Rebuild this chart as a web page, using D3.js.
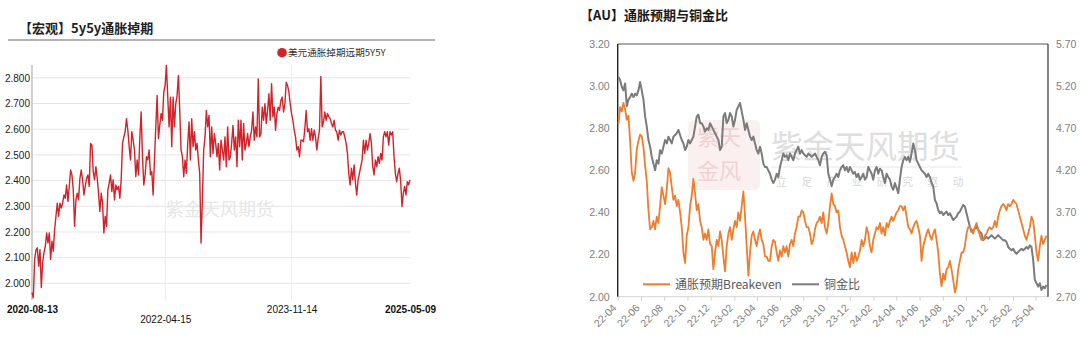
<!DOCTYPE html>
<html>
<head>
<meta charset="utf-8">
<script src="https://cdn.jsdelivr.net/npm/d3@7"></script>
<style>
  html, body { margin: 0; padding: 0; background: #fff; }
  svg { display: block; font-family: "Liberation Sans", Arial, "Noto Sans CJK SC", sans-serif; }
</style>
</head>
<body>
<svg id="chart" width="1080" height="342"></svg>
<script>
// ---------- Left panel: USD 5y5y inflation swap ----------
const swapTitle = "【宏观】5y5y通胀掉期";
const swapLegend = "美元通胀掉期远期5Y5Y";
const swapStart = "2020-08-13";
const swapEnd = "2025-05-09";
const swapDateTicks = ["2020-08-13", "2022-04-15", "2023-11-14", "2025-05-09"];
const swapValueTicks = [2.0, 2.1, 2.2, 2.3, 2.4, 2.5, 2.6, 2.7, 2.8];
const swap5y5y = [
  1.964, 1.944, 2.093, 2.131, 2.138, 2.067, 2.131, 1.983, 2.080, 2.119,
  2.144, 2.196, 2.157, 2.196, 2.093, 2.164, 2.125, 2.209, 2.261, 2.312,
  2.261, 2.312, 2.293, 2.312, 2.344, 2.331, 2.383, 2.319, 2.377, 2.441,
  2.422, 2.364, 2.222, 2.325, 2.351, 2.325, 2.409, 2.441, 2.403, 2.344,
  2.377, 2.409, 2.422, 2.377, 2.545, 2.538, 2.435, 2.403, 2.454, 2.409,
  2.351, 2.280, 2.351, 2.312, 2.196, 2.261, 2.222, 2.364, 2.390, 2.422,
  2.357, 2.403, 2.325, 2.383, 2.364, 2.377, 2.331, 2.403, 2.545, 2.570,
  2.590, 2.641, 2.596, 2.532, 2.480, 2.590, 2.557, 2.519, 2.415, 2.480,
  2.422, 2.564, 2.667, 2.493, 2.383, 2.422, 2.493, 2.480, 2.519, 2.422,
  2.435, 2.344, 2.480, 2.609, 2.731, 2.564, 2.615, 2.661, 2.635, 2.745,
  2.770, 2.848, 2.725, 2.609, 2.725, 2.532, 2.725, 2.609, 2.699, 2.731,
  2.809, 2.673, 2.519, 2.493, 2.415, 2.480, 2.428, 2.545, 2.628, 2.480,
  2.641, 2.532, 2.590, 2.519, 2.545, 2.480, 2.428, 2.157, 2.325, 2.519,
  2.570, 2.673, 2.609, 2.654, 2.493, 2.609, 2.506, 2.583, 2.545, 2.493,
  2.545, 2.441, 2.557, 2.519, 2.480, 2.570, 2.454, 2.609, 2.480, 2.493,
  2.545, 2.615, 2.519, 2.570, 2.454, 2.635, 2.532, 2.635, 2.480, 2.622,
  2.519, 2.545, 2.583, 2.532, 2.570, 2.596, 2.667, 2.557, 2.609, 2.570,
  2.796, 2.570, 2.583, 2.686, 2.635, 2.699, 2.622, 2.673, 2.738, 2.635,
  2.777, 2.648, 2.686, 2.596, 2.661, 2.686, 2.673, 2.712, 2.725, 2.667,
  2.699, 2.783, 2.770, 2.745, 2.699, 2.661, 2.635, 2.596, 2.570, 2.519,
  2.532, 2.493, 2.557, 2.557, 2.551, 2.602, 2.673, 2.590, 2.602, 2.557,
  2.602, 2.557, 2.596, 2.570, 2.519, 2.564, 2.596, 2.805, 2.609, 2.628,
  2.667, 2.635, 2.661, 2.648, 2.641, 2.622, 2.609, 2.635, 2.596, 2.590,
  2.557, 2.596, 2.577, 2.590, 2.590, 2.570, 2.545, 2.506, 2.428, 2.383,
  2.448, 2.403, 2.461, 2.390, 2.344, 2.403, 2.428, 2.454, 2.480, 2.557,
  2.506, 2.557, 2.519, 2.545, 2.583, 2.545, 2.454, 2.422, 2.480, 2.454,
  2.493, 2.467, 2.506, 2.480, 2.570, 2.590, 2.570, 2.590, 2.538, 2.590,
  2.577, 2.590, 2.493, 2.428, 2.396, 2.428, 2.448, 2.396, 2.299, 2.351,
  2.377, 2.344, 2.396, 2.383, 2.403
];

// ---------- Right panel: breakeven inflation vs copper/gold ratio ----------
const auTitle = "【AU】通胀预期与铜金比";
const auSeriesNames = ["通胀预期Breakeven", "铜金比"];
const auStart = "2022-04-03";
const auEnd = "2025-04-30";
const auDomain = ["2022-04-01", "2025-05-04"];
const auMonthTicks = ["2022-04", "2022-06", "2022-08", "2022-10", "2022-12", "2023-02", "2023-04",
  "2023-06", "2023-08", "2023-10", "2023-12", "2024-02", "2024-04", "2024-06", "2024-08",
  "2024-10", "2024-12", "2025-02", "2025-04"];
const breakevenTicks = [2.0, 2.2, 2.4, 2.6, 2.8, 3.0, 3.2];
const ratioTicks = [2.7, 3.2, 3.7, 4.2, 4.7, 5.2, 5.7];
const breakeven = [
  2.82, 2.90, 2.88, 2.92, 2.89, 2.84, 2.86, 2.74, 2.59, 2.55,
  2.59, 2.70, 2.74, 2.77, 2.76, 2.71, 2.62, 2.55, 2.41, 2.32,
  2.33, 2.36, 2.32, 2.38, 2.35, 2.43, 2.52, 2.48, 2.44, 2.51,
  2.61, 2.59, 2.52, 2.46, 2.48, 2.43, 2.46, 2.40, 2.33, 2.21,
  2.16, 2.29, 2.33, 2.43, 2.48, 2.56, 2.49, 2.41, 2.44, 2.36,
  2.33, 2.27, 2.30, 2.27, 2.32, 2.25, 2.24, 2.13, 2.21, 2.27,
  2.24, 2.31, 2.27, 2.19, 2.12, 2.24, 2.30, 2.33, 2.27, 2.32,
  2.36, 2.33, 2.40, 2.36, 2.43, 2.50, 2.38, 2.24, 2.10, 2.21,
  2.29, 2.31, 2.27, 2.24, 2.29, 2.32, 2.27, 2.25, 2.19,
  2.19, 2.17, 2.17, 2.24, 2.27, 2.26, 2.21, 2.17, 2.22, 2.19,
  2.24, 2.21, 2.24, 2.19, 2.25, 2.27, 2.24, 2.30, 2.33, 2.38,
  2.38, 2.41, 2.40, 2.36, 2.33, 2.33, 2.30, 2.25, 2.27, 2.32,
  2.35, 2.36, 2.38, 2.35, 2.40, 2.33, 2.30, 2.35, 2.43, 2.49,
  2.44, 2.43, 2.40, 2.41, 2.33, 2.29, 2.27, 2.24, 2.21, 2.17,
  2.14, 2.21, 2.16, 2.21, 2.17, 2.19, 2.22, 2.27, 2.24, 2.27,
  2.33, 2.30, 2.24, 2.21, 2.27, 2.30, 2.33, 2.32, 2.35, 2.30,
  2.33, 2.29, 2.35, 2.33, 2.36, 2.38, 2.36, 2.38, 2.40, 2.41,
  2.43, 2.43, 2.41, 2.43, 2.38, 2.33, 2.32,
  2.30, 2.33, 2.35, 2.36, 2.33, 2.29, 2.17, 2.24, 2.27, 2.30,
  2.32, 2.29, 2.27, 2.30, 2.32, 2.27, 2.21, 2.11, 2.05, 2.11,
  2.08, 2.13, 2.14, 2.17, 2.13, 2.08, 2.02, 2.05, 2.13, 2.17,
  2.21, 2.21, 2.24, 2.30, 2.33, 2.33, 2.32, 2.30, 2.33, 2.35,
  2.32, 2.29, 2.27, 2.27, 2.29, 2.30, 2.32, 2.33, 2.32, 2.33,
  2.36, 2.33, 2.38, 2.41, 2.43, 2.44, 2.43, 2.41, 2.44, 2.43,
  2.44, 2.46, 2.45, 2.44, 2.41, 2.38, 2.35, 2.32, 2.29, 2.27,
  2.30, 2.33, 2.38, 2.36, 2.29, 2.21, 2.17, 2.24, 2.29, 2.25,
  2.27, 2.29
];
const copperGold = [
  5.31, 5.27, 5.19, 5.15, 5.23, 4.96, 5.04, 5.07, 5.11, 5.07,
  5.11, 5.09, 5.15, 5.25, 5.15, 5.04, 4.84, 4.72, 4.56, 4.48,
  4.36, 4.28, 4.20, 4.32, 4.28, 4.44, 4.40, 4.48, 4.56, 4.52,
  4.60, 4.56, 4.52, 4.60, 4.62, 4.64, 4.68, 4.62, 4.56, 4.52,
  4.44, 4.48, 4.56, 4.52, 4.56, 4.60, 4.72, 4.84, 4.86, 4.76,
  4.76, 4.72, 4.66, 4.70, 4.68, 4.76, 4.72, 4.68, 4.64, 4.60,
  4.56, 4.44, 4.48, 4.84, 4.88, 4.76, 4.80, 4.88, 4.84, 4.72,
  4.80, 4.92, 4.96, 5.00, 4.90, 4.80, 4.68, 4.76, 4.68, 4.60,
  4.56, 4.60, 4.52, 4.44, 4.40, 4.48, 4.40, 4.28, 4.24,
  4.24, 4.20, 4.16, 4.09, 4.05, 4.09, 4.16, 4.12, 4.24, 4.32,
  4.40, 4.36, 4.38, 4.32, 4.40, 4.36, 4.32, 4.40, 4.44, 4.48,
  4.40, 4.44, 4.40, 4.38, 4.36, 4.40, 4.38, 4.36, 4.38, 4.40,
  4.36, 4.32, 4.26, 4.36, 4.40, 4.42, 4.38, 4.16, 4.09, 4.01,
  4.09, 4.12, 4.16, 4.12, 4.20, 4.24, 4.26, 4.20, 4.24, 4.18,
  4.24, 4.20, 4.16, 4.18, 4.12, 4.16, 4.09, 4.12, 4.16, 4.09,
  4.12, 4.24, 4.20, 4.16, 4.09, 4.20, 4.24, 4.16, 4.22, 4.20,
  4.12, 4.05, 4.16, 4.12, 4.09, 4.01, 3.97, 4.05, 3.99, 3.93,
  4.09, 4.24, 4.32, 4.36, 4.32, 4.36, 4.30,
  4.40, 4.52, 4.44, 4.32, 4.28, 4.24, 4.20, 4.18, 4.16, 4.12,
  4.16, 4.12, 4.05, 4.01, 3.85, 3.81, 3.73, 3.69, 3.71, 3.67,
  3.69, 3.71, 3.67, 3.69, 3.65, 3.61, 3.63, 3.65, 3.69, 3.71,
  3.75, 3.79, 3.77, 3.69, 3.61, 3.53, 3.47, 3.49, 3.51, 3.53,
  3.49, 3.47, 3.45, 3.37, 3.39, 3.41, 3.39, 3.41, 3.43, 3.41,
  3.39, 3.41, 3.43, 3.41, 3.39, 3.37, 3.37, 3.35, 3.29, 3.27,
  3.25, 3.27, 3.23, 3.21, 3.23, 3.25, 3.27, 3.25, 3.27, 3.29,
  3.27, 3.31, 3.29, 3.14, 2.90, 2.86, 2.82, 2.86, 2.78, 2.82,
  2.80, 2.84
];

const parseDay = d3.timeParse("%Y-%m-%d");
const parseMonth = d3.timeParse("%Y-%m");

// Observations are evenly spaced between the first and last date of each series.
function spreadDates(start, end, n) {
  const t = d3.scaleLinear().domain([0, n - 1]).range([parseDay(start), parseDay(end)]);
  return d3.range(n).map(i => new Date(t(i)));
}

const svg = d3.select("#chart");

// ===================== Left panel =====================
(function drawSwap() {
  const g = svg.append("g");
  const x = d3.scaleTime().domain([parseDay(swapStart), parseDay(swapEnd)]).range([32, 410]);
  const y = d3.scaleLinear().domain([1.935, 2.85]).range([300, 65]);
  const dates = spreadDates(swapStart, swapEnd, swap5y5y.length);
  const data = swap5y5y.map((v, i) => ({ date: dates[i], value: v }));

  // title and rule
  g.append("text").attr("x", 19).attr("y", 33)
    .attr("font-family", "'Noto Sans CJK SC', sans-serif").attr("font-weight", "bold")
    .attr("font-size", 13).attr("fill", "#222").text(swapTitle);
  g.append("line").attr("x1", 8).attr("x2", 435).attr("y1", 40).attr("y2", 40)
    .attr("stroke", "#9a9a9a").attr("stroke-width", 1.5);

  // legend
  g.append("circle").attr("cx", 282).attr("cy", 52.7).attr("r", 4.8).attr("fill", "#d0232a");
  g.append("text").attr("x", 288).attr("y", 56.3)
    .attr("font-family", "'Noto Sans CJK SC', sans-serif")
    .attr("font-size", 9.6).attr("fill", "#333").text(swapLegend);

  // horizontal grid
  g.append("g").selectAll("line").data(swapValueTicks).join("line")
    .attr("x1", 32).attr("x2", 410)
    .attr("y1", d => y(d)).attr("y2", d => y(d))
    .attr("stroke", "#e6e6e6").attr("stroke-width", 1);

  // vertical grid at the inner date ticks
  const tickDates = swapDateTicks.map(parseDay);
  g.append("g").selectAll("line").data(tickDates.slice(1, 3)).join("line")
    .attr("x1", d => x(d)).attr("x2", d => x(d))
    .attr("y1", 65).attr("y2", 300)
    .attr("stroke", "#ececec").attr("stroke-width", 1);

  // watermark
  g.append("text").attr("x", 166).attr("y", 216)
    .attr("font-family", "'Noto Sans CJK SC', sans-serif")
    .attr("font-size", 18).attr("fill", "#e6e6e6").text("紫金天风期货");

  // y axis
  const yAxis = d3.axisLeft(y).tickValues(swapValueTicks).tickFormat(d3.format(".3f"))
    .tickSize(0).tickPadding(2);
  const ya = g.append("g").attr("transform", "translate(32,0)").call(yAxis);
  ya.select(".domain").remove();
  ya.selectAll("text").attr("font-size", 10).attr("fill", "#1a1a1a")
    .attr("font-family", "'Liberation Sans', Arial, sans-serif");
  g.append("line").attr("x1", 32).attr("x2", 32).attr("y1", 65).attr("y2", 300)
    .attr("stroke", "#c4c4c4").attr("stroke-width", 1.6);

  // x axis labels (second one staggered lower)
  const xAxis = d3.axisBottom(x).tickValues(tickDates).tickFormat(d3.timeFormat("%Y-%m-%d"))
    .tickSize(0).tickPadding(4);
  const xa = g.append("g").attr("transform", "translate(0,300)").call(xAxis);
  xa.select(".domain").remove();
  xa.selectAll("text")
    .attr("font-size", 10).attr("fill", "#111")
    .attr("font-family", "'Liberation Sans', Arial, sans-serif")
    .attr("font-weight", (d, i) => (i === 0 || i === 3) ? "bold" : "normal")
    .attr("dy", (d, i) => i === 1 ? "1.9em" : "0.9em");

  // series
  const line = d3.line().x(d => x(d.date)).y(d => y(d.value));
  g.append("path").datum(data).attr("d", line)
    .attr("fill", "none").attr("stroke", "#d0232a").attr("stroke-width", 1.4)
    .attr("stroke-linejoin", "round");
})();

// ===================== Right panel =====================
(function drawAU() {
  const g = svg.append("g");
  const L = 617.7, R = 1048, T = 44, B = 296.7;
  const x = d3.scaleTime().domain(auDomain.map(parseDay)).range([L, R]);
  const yL = d3.scaleLinear().domain([2.0, 3.2]).range([B, T]);
  const yR = d3.scaleLinear().domain([2.7, 5.7]).range([B, T]);
  const dates = spreadDates(auStart, auEnd, breakeven.length);

  // title
  g.append("text").attr("x", 580).attr("y", 19.5)
    .attr("font-family", "'Noto Sans CJK SC', sans-serif").attr("font-weight", "bold")
    .attr("font-size", 13).attr("fill", "#1a1a1a").text(auTitle);

  // watermark: seal, brand name, rule and slogan
  const wm = g.append("g");
  wm.append("rect").attr("x", 688).attr("y", 120).attr("width", 72).attr("height", 70).attr("rx", 6)
    .attr("fill", "#f9ecec").attr("opacity", 0.8);
  wm.append("text").attr("x", 697).attr("y", 145).attr("font-family", "'Noto Sans CJK SC', sans-serif")
    .attr("font-size", 22).attr("fill", "#f0d2d2").text("紫天");
  wm.append("text").attr("x", 697).attr("y", 179).attr("font-family", "'Noto Sans CJK SC', sans-serif")
    .attr("font-size", 22).attr("fill", "#f0d2d2").text("金风");
  wm.append("text").attr("x", 771).attr("y", 158).attr("font-family", "'Noto Sans CJK SC', sans-serif")
    .attr("font-size", 31.5).attr("fill", "#dedede").text("紫金天风期货");
  wm.append("line").attr("x1", 771).attr("x2", 962).attr("y1", 167).attr("y2", 167)
    .attr("stroke", "#e6e6e6").attr("stroke-width", 1);
  const slogan = "立足产业研究驱动".split("");
  wm.selectAll("text.slogan").data(slogan).join("text").attr("class", "slogan")
    .attr("x", (d, i) => 776 + i * 25.2).attr("y", 186)
    .attr("font-family", "'Noto Sans CJK SC', sans-serif")
    .attr("font-size", 11).attr("fill", "#d8d8d8").text(d => d);

  // frame
  g.append("line").attr("x1", L).attr("x2", R).attr("y1", B).attr("y2", B)
    .attr("stroke", "#d4d4d4").attr("stroke-width", 1);
  g.append("line").attr("x1", L).attr("x2", R).attr("y1", T).attr("y2", T)
    .attr("stroke", "#555").attr("stroke-width", 1);
  g.append("line").attr("x1", L).attr("x2", L).attr("y1", T).attr("y2", B)
    .attr("stroke", "#222").attr("stroke-width", 1.4);
  g.append("line").attr("x1", R).attr("x2", R).attr("y1", T).attr("y2", B)
    .attr("stroke", "#333").attr("stroke-width", 1.2);

  // left axis
  const axL = g.append("g").attr("transform", `translate(${L},0)`)
    .call(d3.axisLeft(yL).tickValues(breakevenTicks).tickFormat(d3.format(".2f")).tickSize(0).tickPadding(8));
  axL.select(".domain").remove();
  axL.selectAll("text").attr("font-size", 10.5).attr("fill", "#808080")
    .attr("font-family", "'Liberation Sans', Arial, sans-serif");

  // right axis
  const axR = g.append("g").attr("transform", `translate(${R},0)`)
    .call(d3.axisRight(yR).tickValues(ratioTicks).tickFormat(d3.format(".2f")).tickSize(0).tickPadding(8));
  axR.select(".domain").remove();
  axR.selectAll("text").attr("font-size", 10.5).attr("fill", "#808080")
    .attr("font-family", "'Liberation Sans', Arial, sans-serif");

  // bottom axis: bimonthly ticks with rotated labels
  const months = auMonthTicks.map(parseMonth);
  const axB = g.append("g").attr("transform", `translate(0,${B})`)
    .call(d3.axisBottom(x).tickValues(months).tickFormat(d3.timeFormat("%y-%m")).tickSize(4).tickSizeOuter(0));
  axB.select(".domain").remove();
  axB.selectAll(".tick line").attr("stroke", "#cfcfcf");
  axB.selectAll("text")
    .attr("font-size", 10.5).attr("fill", "#808080")
    .attr("font-family", "'Liberation Sans', Arial, sans-serif")
    .attr("text-anchor", "end")
    .attr("dy", 0).attr("y", 0)
    .attr("transform", "translate(-1,12) rotate(-45)");

  // series
  const lineL = d3.line().x((d, i) => x(dates[i])).y(d => yL(d));
  const lineR = d3.line().x((d, i) => x(dates[i])).y(d => yR(d));
  g.append("path").datum(copperGold).attr("d", lineR)
    .attr("fill", "none").attr("stroke", "#7b7b7b").attr("stroke-width", 2)
    .attr("stroke-linejoin", "round");
  g.append("path").datum(breakeven).attr("d", lineL)
    .attr("fill", "none").attr("stroke", "#ef7d2e").attr("stroke-width", 1.8)
    .attr("stroke-linejoin", "round");

  // legend
  const legendColors = ["#ef7d2e", "#7b7b7b"];
  const legendX = [643, 792];
  const lg = g.append("g").selectAll("g").data(auSeriesNames).join("g")
    .attr("transform", (d, i) => `translate(${legendX[i]},284.3)`);
  lg.append("line").attr("x1", 0).attr("x2", 27).attr("y1", 0).attr("y2", 0)
    .attr("stroke", (d, i) => legendColors[i]).attr("stroke-width", 2);
  lg.append("text").attr("x", 32).attr("y", 4.3)
    .attr("font-family", "'Noto Sans CJK SC', sans-serif")
    .attr("font-size", 12).attr("fill", "#595959").text(d => d);
})();
</script>
</body>
</html>
